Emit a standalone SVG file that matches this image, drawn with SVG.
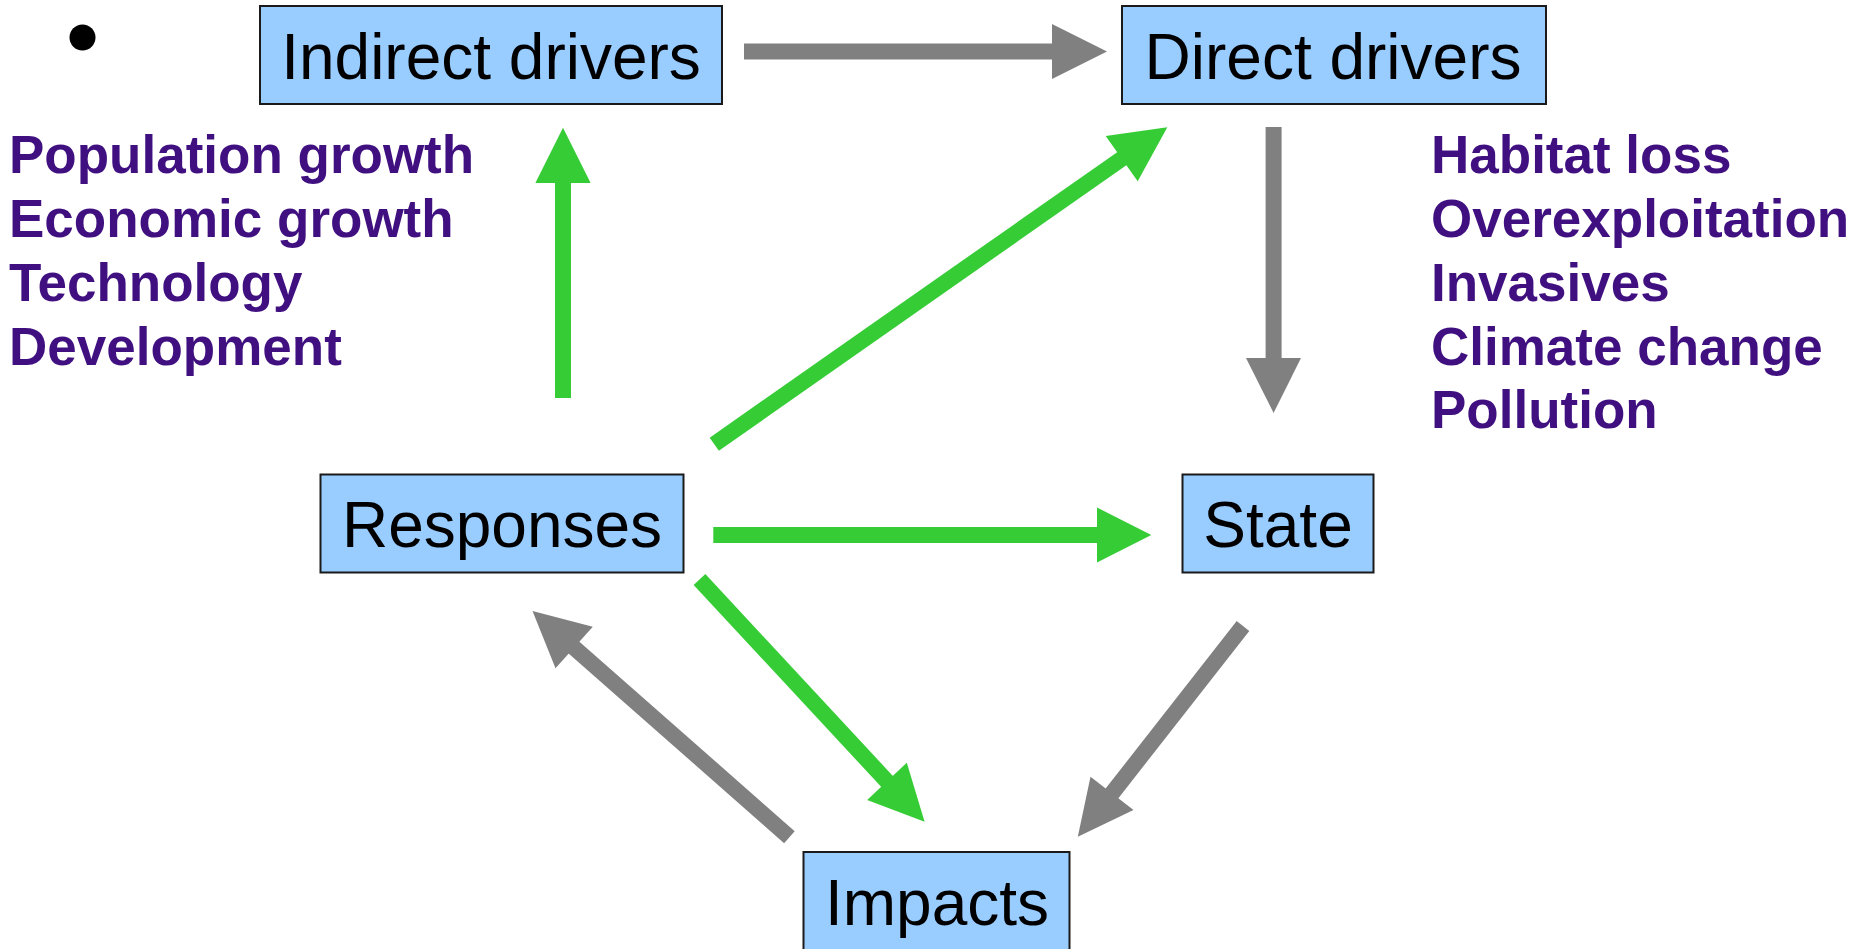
<svg xmlns="http://www.w3.org/2000/svg" width="1854" height="949" viewBox="0 0 1854 949">
<style>
.box{fill:#99ccff;stroke:#1a1a1a;stroke-width:2}
.lbl{font-family:"Liberation Sans",Arial,sans-serif;font-size:64px;fill:#000;text-anchor:middle}
.lst{font-family:"Liberation Sans",Arial,sans-serif;font-size:53px;font-weight:bold;fill:#401080}
.gs{stroke:#808080;stroke-width:16;fill:none}
.gh{fill:#808080}
.ns{stroke:#35cc35;stroke-width:16;fill:none}
.nh{fill:#35cc35}
</style>
<rect width="1854" height="949" fill="#fff"/>
<circle cx="82.5" cy="37.5" r="13" fill="#000"/>
<g id="indirect-drivers">
<rect class="box" x="260" y="6" width="462" height="98"/>
<text class="lbl" x="491" y="79">Indirect drivers</text>
</g>
<g id="direct-drivers">
<rect class="box" x="1122" y="6" width="424" height="98"/>
<text class="lbl" x="1333" y="79">Direct drivers</text>
</g>
<g id="responses">
<rect class="box" x="320.5" y="474.5" width="363" height="98"/>
<text class="lbl" x="502" y="547">Responses</text>
</g>
<g id="state">
<rect class="box" x="1182.5" y="474.5" width="191" height="98"/>
<text class="lbl" x="1278" y="547">State</text>
</g>
<g id="impacts">
<rect class="box" x="803.5" y="852" width="266" height="110"/>
<text class="lbl" x="937" y="925">Impacts</text>
</g>
<g id="indirect-list">
<text class="lst" x="9" y="173">Population growth</text>
<text class="lst" x="9" y="237">Economic growth</text>
<text class="lst" x="9" y="301">Technology</text>
<text class="lst" x="9" y="365">Development</text>
</g>
<g id="direct-list">
<text class="lst" x="1431" y="173">Habitat loss</text>
<text class="lst" x="1431" y="237">Overexploitation</text>
<text class="lst" x="1431" y="301">Invasives</text>
<text class="lst" x="1431" y="365">Climate change</text>
<text class="lst" x="1431" y="428">Pollution</text>
</g>
<g id="connectors">
<line class="gs" x1="744" y1="51.5" x2="1053" y2="51.5"/>
<polygon class="gh" points="1052,24 1052,79 1107,51.5"/>
<line class="gs" x1="1273.6" y1="127" x2="1273.6" y2="359"/>
<polygon class="gh" points="1246,358 1301,358 1273.6,413"/>
<line class="ns" x1="563" y1="398" x2="563" y2="182"/>
<polygon class="nh" points="535.4,183 590.6,183 563,127.7"/>
<line class="ns" x1="713.3" y1="535" x2="1098" y2="535"/>
<polygon class="nh" points="1097,507.5 1097,562.5 1151.3,535"/>
<line class="ns" x1="714.3" y1="444.2" x2="1122.5" y2="158.2"/>
<polygon class="nh" points="1105.7,136 1137.7,181.3 1167.3,127.3"/>
<line class="ns" x1="699.5" y1="579.5" x2="887.7" y2="782.1"/>
<polygon class="nh" points="906.8,762.7 867.2,800 924.6,821.7"/>
<line class="gs" x1="789.4" y1="837.2" x2="573.3" y2="646.9"/>
<polygon class="gh" points="592.8,626.7 555.5,668.3 532.5,611"/>
<line class="gs" x1="1243" y1="626" x2="1111.5" y2="794"/>
<polygon class="gh" points="1090.5,776.7 1133.5,810 1077.8,836.7"/>
</g>
</svg>
